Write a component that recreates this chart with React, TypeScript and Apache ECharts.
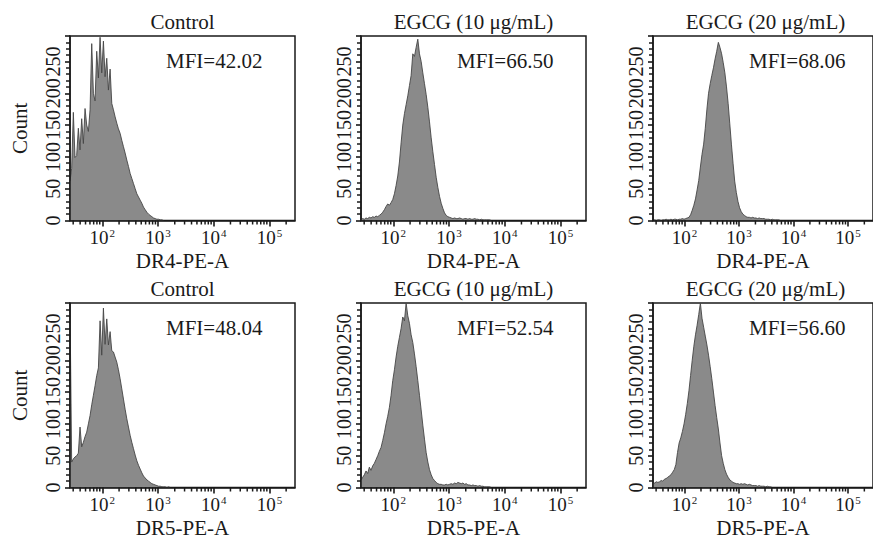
import React, { useEffect, useRef } from 'react';
import * as echarts from 'echarts';

// ---------- data ----------
// histogram bins: bin i sits at 10^(BIN_START_LOG + i * BIN_STEP_LOG)
const BIN_START_LOG = 1.42;
const BIN_STEP_LOG = 0.03;

const DR4_CONTROL = [62, 82, 170, 99, 102, 145, 111, 160, 121, 176, 150, 140, 174, 278, 200, 188, 266, 224, 288, 232, 282, 226, 255, 205, 238, 184, 174, 163, 153, 144, 137, 126, 116, 106, 95, 85, 74, 66, 58, 50, 42, 37, 32, 27, 21, 17, 13, 10, 8, 6, 4, 3, 2, 2, 1, 1, 0];
const DR4_EGCG10 = [2, 3, 2, 4, 3, 5, 4, 6, 5, 7, 6, 8, 10, 13, 17, 22, 26, 24, 28, 33, 42, 55, 70, 92, 122, 150, 168, 182, 196, 212, 228, 262, 258, 272, 285, 262, 250, 232, 215, 198, 178, 155, 130, 108, 88, 68, 52, 38, 27, 19, 12, 8, 6, 5, 4, 3, 4, 3, 3, 4, 3, 2, 3, 3, 2, 3, 2, 2, 3, 2, 2, 1, 2, 1, 1, 1, 1, 1, 0];
const DR4_EGCG20 = [0, 1, 0, 1, 1, 0, 1, 1, 2, 1, 1, 2, 1, 2, 2, 1, 2, 2, 3, 2, 3, 4, 5, 9, 16, 24, 34, 48, 63, 84, 104, 120, 145, 175, 200, 215, 228, 240, 254, 266, 280, 272, 262, 248, 232, 210, 184, 152, 120, 90, 62, 44, 30, 20, 14, 10, 8, 6, 5, 5, 4, 5, 4, 4, 3, 4, 3, 3, 3, 2, 2, 2, 1, 2, 1, 1, 1, 1, 0];
const DR5_CONTROL = [285, 40, 45, 48, 50, 54, 95, 64, 71, 80, 87, 100, 113, 130, 145, 160, 176, 188, 262, 208, 282, 225, 265, 224, 245, 215, 213, 205, 197, 185, 171, 155, 139, 123, 108, 95, 82, 71, 61, 51, 42, 35, 29, 23, 18, 15, 12, 10, 8, 6, 5, 4, 3, 2, 2, 1, 1, 1, 0, 1, 0];
const DR5_EGCG10 = [12, 16, 20, 26, 22, 32, 27, 34, 38, 44, 50, 57, 63, 74, 86, 100, 112, 126, 145, 168, 185, 205, 222, 236, 250, 268, 262, 290, 270, 258, 240, 228, 210, 190, 168, 145, 122, 98, 76, 55, 40, 28, 20, 14, 11, 8, 6, 5, 5, 4, 4, 5, 4, 5, 6, 5, 7, 6, 8, 7, 6, 7, 5, 6, 4, 4, 3, 4, 3, 3, 2, 3, 2, 2, 1, 1, 1, 1, 0];
const DR5_EGCG20 = [8, 7, 9, 8, 9, 11, 10, 13, 14, 16, 18, 20, 24, 28, 36, 55, 70, 78, 88, 100, 115, 132, 152, 176, 200, 222, 240, 255, 272, 290, 266, 252, 238, 224, 208, 190, 171, 150, 129, 110, 92, 70, 50, 38, 28, 21, 16, 12, 10, 8, 7, 6, 6, 5, 6, 5, 6, 5, 4, 5, 4, 3, 3, 3, 2, 3, 2, 2, 2, 1, 2, 1, 1, 0];

const PANEL_TITLES = ['Control', 'EGCG (10 μg/mL)', 'EGCG (20 μg/mL)'];
const ROW_AXIS_NAMES = ['DR4-PE-A', 'DR5-PE-A'];
const MFI_LABELS = [
  ['MFI=42.02', 'MFI=66.50', 'MFI=68.06'],
  ['MFI=48.04', 'MFI=52.54', 'MFI=56.60'],
];
const Y_AXIS_NAME = 'Count';
const Y_MIN = 0;
const Y_MAX = 290;
const Y_INTERVAL = 50;
const X_MIN_LOG = 1.42;
const X_MAX_LOG = 5.46;
const MINOR_X_TICKS = [
  30, 40, 50, 60, 70, 80, 90,
  200, 300, 400, 500, 600, 700, 800, 900,
  2000, 3000, 4000, 5000, 6000, 7000, 8000, 9000,
  20000, 30000, 40000, 50000, 60000, 70000, 80000, 90000,
  200000,
];

const HISTOGRAMS = [
  [DR4_CONTROL, DR4_EGCG10, DR4_EGCG20],
  [DR5_CONTROL, DR5_EGCG10, DR5_EGCG20],
];

// ---------- layout ----------
const COL_LEFT = [70, 361, 653];
const ROW_TOP = [36, 303];
const GRID_W = 225;
const GRID_H = 184.5;
const FONT = "'Liberation Serif', 'Times New Roman', serif";
const INK = '#1a1a1a';

function buildOption() {
  const grid: any[] = [];
  const xAxis: any[] = [];
  const yAxis: any[] = [];
  const series: any[] = [];
  const graphic: any[] = [];

  for (let r = 0; r < 2; r++) {
    for (let c = 0; c < 3; c++) {
      const k = r * 3 + c;
      grid.push({
        left: COL_LEFT[c],
        top: ROW_TOP[r],
        width: GRID_W,
        height: GRID_H,
        show: true,
        borderColor: INK,
        borderWidth: 1.5,
        backgroundColor: 'transparent',
      });
      xAxis.push({
        type: 'log',
        logBase: 10,
        gridIndex: k,
        min: Math.pow(10, X_MIN_LOG),
        max: Math.pow(10, X_MAX_LOG),
        z: 10,
        axisLine: { show: true, lineStyle: { color: INK, width: 1.5 } },
        axisTick: { show: true, inside: false, length: 6, lineStyle: { color: INK, width: 1.6 } },
        minorTick: { show: false },
        splitLine: { show: false },
        axisLabel: {
          margin: 7,
          showMinLabel: false,
          showMaxLabel: false,
          formatter: (value: number) => {
            const e = Math.log10(value);
            const n = Math.round(e);
            if (Math.abs(e - n) > 1e-6) return '';
            return `{b|10}{s|${n}}`;
          },
          rich: {
            b: { fontSize: 19, fontFamily: FONT, color: INK },
            s: { fontSize: 11, fontFamily: FONT, color: INK, verticalAlign: 'top', padding: [0, 0, 0, 1] },
          },
        },
        name: ROW_AXIS_NAMES[r],
        nameLocation: 'middle',
        nameGap: 30,
        nameTextStyle: { fontSize: 21, fontFamily: FONT, color: INK },
      });
      yAxis.push({
        type: 'value',
        gridIndex: k,
        min: Y_MIN,
        max: Y_MAX,
        interval: Y_INTERVAL,
        z: 10,
        axisLine: { show: true, lineStyle: { color: INK, width: 1.5 } },
        axisTick: { show: true, inside: false, length: 5, lineStyle: { color: INK, width: 1.6 } },
        minorTick: { show: true, splitNumber: 5, length: 4, lineStyle: { color: INK, width: 1.5 } },
        splitLine: { show: false },
        minorSplitLine: { show: false },
        axisLabel: {
          rotate: 90,
          margin: 7,
          fontSize: 20,
          fontFamily: FONT,
          color: INK,
          showMaxLabel: false,
        },
        name: c === 0 ? Y_AXIS_NAME : '',
        nameLocation: 'middle',
        nameGap: 40,
        nameTextStyle: { fontSize: 21, fontFamily: FONT, color: INK },
      });
      const counts = HISTOGRAMS[r][c];
      series.push({
        type: 'line',
        xAxisIndex: k,
        yAxisIndex: k,
        data: counts.map((v, i) => [Math.pow(10, BIN_START_LOG + BIN_STEP_LOG * i), v]),
        symbol: 'none',
        showSymbol: false,
        silent: true,
        clip: true,
        z: 2,
        lineStyle: { color: '#454545', width: 0.9 },
        areaStyle: { color: '#8a8a8a', opacity: 1 },
      });
      series.push({
        type: 'custom',
        coordinateSystem: 'cartesian2d',
        xAxisIndex: k,
        yAxisIndex: k,
        data: MINOR_X_TICKS.map((v) => [v, 0]),
        clip: false,
        silent: true,
        z: 10,
        renderItem: (_p: any, api: any) => {
          const pt = api.coord([api.value(0), 0]);
          return {
            type: 'line',
            shape: { x1: pt[0], y1: pt[1], x2: pt[0], y2: pt[1] + 4 },
            style: { stroke: INK, lineWidth: 1.5 },
          };
        },
      });
      graphic.push({
        type: 'text',
        x: COL_LEFT[c] + GRID_W / 2,
        y: ROW_TOP[r] - 14,
        style: {
          text: PANEL_TITLES[c],
          fontSize: 21,
          fontFamily: FONT,
          fill: INK,
          align: 'center',
          verticalAlign: 'middle',
          textAlign: 'center',
          textVerticalAlign: 'middle',
        },
      });
      graphic.push({
        type: 'text',
        x: COL_LEFT[c] + 96,
        y: ROW_TOP[r] + 25,
        style: {
          text: MFI_LABELS[r][c],
          fontSize: 21,
          fontFamily: FONT,
          fill: INK,
          align: 'left',
          verticalAlign: 'middle',
          textAlign: 'left',
          textVerticalAlign: 'middle',
        },
      });
    }
  }

  return {
    animation: false,
    backgroundColor: '#ffffff',
    textStyle: { fontFamily: FONT },
    grid,
    xAxis,
    yAxis,
    series,
    graphic,
  };
}

export default function App() {
  const ref = useRef<HTMLDivElement>(null);
  useEffect(() => {
    if (!ref.current) return;
    const chart = echarts.init(ref.current, undefined, { renderer: 'svg' });
    chart.setOption(buildOption() as any);
    return () => chart.dispose();
  }, []);
  return (
    <div
      ref={ref}
      style={{ position: 'fixed', left: 0, top: 0, width: 873, height: 540, background: '#fff' }}
    />
  );
}
